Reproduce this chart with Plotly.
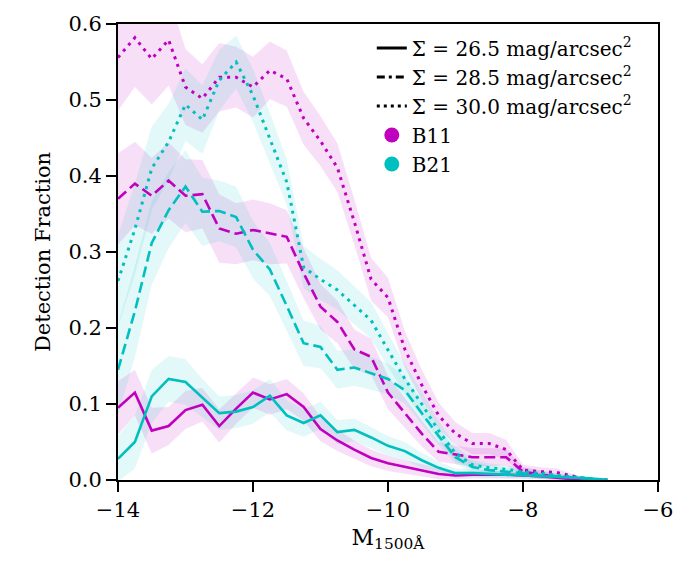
import numpy as np
import plotly.graph_objects as go

# Absolute UV magnitude bins
M1500 = [-14.0, -13.75, -13.5, -13.25, -13.0, -12.75, -12.5, -12.25, -12.0, -11.75,
         -11.5, -11.25, -11.0, -10.75, -10.5, -10.25, -10.0, -9.75, -9.5, -9.25,
         -9.0, -8.75, -8.5, -8.25, -8.0, -7.75, -7.5, -7.25, -7.0, -6.75]

# Detection fractions: B11 (magenta) and B21 (cyan) for three surface-brightness limits
b11_265 = [0.095, 0.115, 0.065, 0.071, 0.092, 0.099, 0.071, 0.094, 0.115, 0.106,
           0.113, 0.096, 0.067, 0.052, 0.040, 0.029, 0.022, 0.017, 0.013, 0.008,
           0.006, 0.007, 0.007, 0.007, 0.006, 0.005, 0.003, 0.001, 0.0, 0.0]
b21_265 = [0.028, 0.050, 0.110, 0.133, 0.129, 0.108, 0.088, 0.090, 0.096, 0.111,
           0.085, 0.075, 0.085, 0.063, 0.066, 0.056, 0.045, 0.038, 0.026, 0.016,
           0.009, 0.009, 0.008, 0.007, 0.006, 0.005, 0.004, 0.003, 0.002, 0.0]
b11_285 = [0.370, 0.390, 0.374, 0.394, 0.374, 0.376, 0.331, 0.324, 0.329, 0.324,
           0.320, 0.272, 0.228, 0.208, 0.172, 0.162, 0.115, 0.088, 0.061, 0.037,
           0.033, 0.030, 0.030, 0.030, 0.011, 0.007, 0.004, 0.002, 0.0, 0.0]
b21_285 = [0.145, 0.222, 0.312, 0.355, 0.386, 0.353, 0.354, 0.346, 0.303, 0.277,
           0.229, 0.180, 0.175, 0.145, 0.148, 0.140, 0.133, 0.118, 0.088, 0.058,
           0.030, 0.017, 0.013, 0.011, 0.009, 0.006, 0.005, 0.003, 0.002, 0.0]
b11_300 = [0.556, 0.582, 0.554, 0.579, 0.517, 0.502, 0.530, 0.530, 0.517, 0.539,
           0.528, 0.476, 0.446, 0.411, 0.340, 0.264, 0.240, 0.172, 0.125, 0.085,
           0.061, 0.048, 0.048, 0.040, 0.013, 0.011, 0.010, 0.005, 0.0, 0.0]
b21_300 = [0.262, 0.330, 0.410, 0.445, 0.494, 0.474, 0.526, 0.550, 0.506, 0.450,
           0.392, 0.280, 0.264, 0.250, 0.230, 0.210, 0.171, 0.133, 0.100, 0.065,
           0.035, 0.020, 0.016, 0.014, 0.011, 0.009, 0.006, 0.004, 0.002, 0.0]

# Uncertainty half-widths (shaded bands)
e_b11_265 = [0.035, 0.030, 0.030, 0.025, 0.025, 0.022, 0.022, 0.020, 0.020, 0.020,
             0.020, 0.018, 0.016, 0.014, 0.012, 0.011, 0.010, 0.009, 0.008, 0.007,
             0.005, 0.005, 0.005, 0.005, 0.004, 0.004, 0.003, 0.002, 0.0, 0.0]
e_b21_265 = [0.030, 0.035, 0.035, 0.030, 0.030, 0.025, 0.022, 0.022, 0.022, 0.022,
             0.020, 0.018, 0.018, 0.016, 0.015, 0.014, 0.013, 0.012, 0.010, 0.008,
             0.006, 0.005, 0.005, 0.005, 0.004, 0.004, 0.003, 0.003, 0.002, 0.0]
e_b11_285 = [0.060, 0.055, 0.050, 0.050, 0.048, 0.045, 0.045, 0.040, 0.040, 0.040,
             0.035, 0.033, 0.030, 0.028, 0.026, 0.024, 0.022, 0.020, 0.017, 0.013,
             0.012, 0.012, 0.012, 0.011, 0.006, 0.005, 0.004, 0.002, 0.0, 0.0]
e_b21_285 = [0.060, 0.060, 0.055, 0.050, 0.048, 0.045, 0.040, 0.040, 0.038, 0.035,
             0.033, 0.030, 0.028, 0.025, 0.024, 0.022, 0.020, 0.018, 0.015, 0.012,
             0.009, 0.007, 0.006, 0.005, 0.004, 0.004, 0.003, 0.003, 0.002, 0.0]
e_b11_300 = [0.070, 0.065, 0.060, 0.060, 0.050, 0.045, 0.045, 0.040, 0.040, 0.038,
             0.037, 0.035, 0.033, 0.032, 0.030, 0.028, 0.026, 0.024, 0.020, 0.017,
             0.015, 0.014, 0.014, 0.013, 0.007, 0.006, 0.005, 0.003, 0.0, 0.0]
e_b21_300 = [0.060, 0.060, 0.055, 0.050, 0.048, 0.045, 0.040, 0.035, 0.035, 0.033,
             0.030, 0.028, 0.027, 0.026, 0.025, 0.024, 0.022, 0.020, 0.017, 0.013,
             0.010, 0.007, 0.006, 0.005, 0.005, 0.004, 0.003, 0.003, 0.002, 0.0]

legend_labels = ["Σ = 26.5 mag/arcsec<sup>2</sup>",
                 "Σ = 28.5 mag/arcsec<sup>2</sup>",
                 "Σ = 30.0 mag/arcsec<sup>2</sup>"]
model_labels = ["B11", "B21"]

MAG = "#bf00bf"
CYN = "#00bfbf"
MAG_FILL = "rgba(191,0,191,0.12)"
CYN_FILL = "rgba(0,191,191,0.11)"
DASHES = ["solid", "11px,5px", "3px,5px"]
LEG_DASHES = ["solid", "8px,4px,3px,4px", "3px,4px"]
FONT = "DejaVu Serif"

series = [
    (b11_265, e_b11_265, MAG, MAG_FILL, 0),
    (b11_285, e_b11_285, MAG, MAG_FILL, 1),
    (b11_300, e_b11_300, MAG, MAG_FILL, 2),
    (b21_265, e_b21_265, CYN, CYN_FILL, 0),
    (b21_285, e_b21_285, CYN, CYN_FILL, 1),
    (b21_300, e_b21_300, CYN, CYN_FILL, 2),
]

fig = go.Figure()
x = np.array(M1500)

for y, e, col, fcol, d in series:
    y = np.array(y); e = np.array(e)
    fig.add_trace(go.Scatter(x=x, y=y + e, mode="lines", line=dict(width=0),
                             showlegend=False, hoverinfo="skip"))
    fig.add_trace(go.Scatter(x=x, y=y - e, mode="lines", line=dict(width=0),
                             fill="tonexty", fillcolor=fcol, showlegend=False,
                             hoverinfo="skip"))

for y, e, col, fcol, d in series:
    fig.add_trace(go.Scatter(x=x, y=y, mode="lines",
                             line=dict(color=col, width=3 if d == 2 else 2.6,
                                       dash=DASHES[d]),
                             showlegend=False))

# legend entries
for lab, d in zip(legend_labels, LEG_DASHES):
    fig.add_trace(go.Scatter(x=[None], y=[None], mode="lines", name=lab,
                             line=dict(color="black", width=3, dash=d)))
for lab, col in zip(model_labels, [MAG, CYN]):
    fig.add_trace(go.Scatter(x=[None], y=[None], mode="markers", name=lab,
                             marker=dict(color=col, size=15, symbol="circle")))

axis_common = dict(showline=True, linecolor="black", linewidth=2, mirror=True,
                   ticks="outside", ticklen=10, tickwidth=2, tickcolor="black",
                   showgrid=False, zeroline=False,
                   tickfont=dict(family=FONT, size=21, color="black"))

fig.update_xaxes(range=[-14, -6], tickvals=[-14, -12, -10, -8, -6],
                 title=dict(text="M<sub>1500Å</sub>", font=dict(family=FONT, size=22, color="black"),
                            standoff=8),
                 **axis_common)
fig.update_yaxes(range=[0, 0.6], tickvals=[0, 0.1, 0.2, 0.3, 0.4, 0.5, 0.6],
                 tickformat=".1f",
                 title=dict(text="Detection Fraction", font=dict(family=FONT, size=21, color="black"),
                            standoff=12),
                 **axis_common)

fig.update_layout(
    width=700, height=573,
    margin=dict(l=118, r=42, t=18, b=93),
    plot_bgcolor="white", paper_bgcolor="white",
    showlegend=True,
    legend=dict(x=0.47, y=0.99, xanchor="left", yanchor="top",
                bgcolor="rgba(0,0,0,0)", borderwidth=0,
                font=dict(family=FONT, size=20, color="black"),
                itemwidth=30, tracegroupgap=0, traceorder="normal"),
)

fig.write_html("out.html")
